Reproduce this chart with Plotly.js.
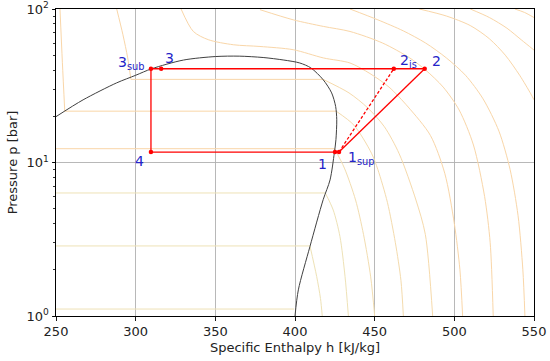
<!DOCTYPE html>
<html>
<head>
<meta charset="utf-8">
<script src="https://cdn.plot.ly/plotly-3.0.1.min.js"></script>
<style>html,body{margin:0;padding:0;background:#fff;}#chart{width:550px;height:361px;}</style>
</head>
<body>
<div id="chart"></div>
<script>
// ---------------- data ----------------
// saturation dome: specific enthalpy h [kJ/kg], pressure p [bar]
const domeH = [250, 267, 288, 300, 310, 330, 350, 365, 380, 393, 403, 410, 417.7, 423, 425.5, 426.2, 425.7, 424.7, 422, 417.7, 409.4, 402.1, 400];
const domeP = [19.9, 25.6, 33, 37, 40.8, 46.5, 49, 49.3, 48.3, 46.5, 44.5, 41.3, 34.6, 28.4, 23.2, 19, 14.1, 11.6, 7.7, 5.73, 2.84, 1.48, 1];

// isotherms: two-phase (horizontal) segments
const twoPhaseP  = [1.11, 2.86, 6.33, 12.3, 21.6, 34.8];
const twoPhaseHL = [250, 250, 250, 250, 255.5, 297];
const twoPhaseHV = [399.5, 409.4, 419, 424.8, 425.8, 417.6];

// isotherms: compressed-liquid segments
const liq5H = [252.5, 254, 255.5];
const liq5P = [100, 45, 21.6];
const liq6H = [288.1, 292, 295, 297];
const liq6P = [100, 68, 48, 34.8];

// isotherms: superheated-vapour segments
const vap2H = [409.4, 413.6, 416, 417.1];
const vap2P = [2.86, 1.81, 1.3, 1];
const vap3H = [419, 424, 428.2, 431.4, 433.5];
const vap3P = [6.33, 4.9, 3.3, 1.81, 1];
const vap4H = [424.8, 431, 438, 443, 447.5, 450];
const vap4P = [12.3, 9.2, 5.7, 3.4, 1.8, 1];
const vap5H = [425.8, 437, 448, 452, 458, 463, 466.5, 468];
const vap5P = [21.6, 17.5, 11.5, 9, 5.5, 3, 1.7, 1];
const vap6H = [417.6, 433.9, 445.6, 456.1, 465.4, 475.9, 481.8, 486.4];
const vap6P = [34.8, 28.4, 22.7, 17.1, 11.4, 5.7, 3.4, 1];

// supercritical / hot isotherms
const iso7H = [328.5, 336.2, 345.6, 361.3, 378, 398.9, 417.8, 434.5, 447, 459, 471, 485, 494, 500, 503.5, 505.2];
const iso7P = [100, 71.4, 63.1, 58.5, 57, 54.3, 48, 44.5, 38, 31, 23, 15, 8.5, 4, 2, 1];
const iso8H = [378, 398.9, 417.8, 434.5, 455, 472, 482, 493, 503, 512, 519, 522.5, 524.4];
const iso8P = [99, 85, 77, 71.4, 60, 48, 40, 31, 22, 13, 6, 3, 1];
const iso9H = [434.5, 452, 468, 482, 495, 507, 518, 528, 535, 540, 543, 544.3];
const iso9P = [100, 85, 72, 60, 48, 37, 26, 16, 9, 4.5, 2, 1];
const iso10H = [478, 495, 510, 522, 532, 541, 548, 550];
const iso10P = [100, 90, 78, 64, 50, 37, 28, 25.6];
const iso11H = [510, 522, 533, 542, 550];
const iso11P = [100, 88, 75, 63, 54];
const iso12H = [538, 544, 550];
const iso12P = [100, 95, 88];

// refrigeration cycle state points
const stateNames = ['3<sub>sub</sub>', '3', '4', '1', '1<sub>sup</sub>', '2<sub>is</sub>', '2'];
const stateH = [309.6, 316, 309.6, 425.1, 427.6, 462, 481.4];
const stateP = [40.8, 40.8, 11.7, 11.7, 11.7, 40.8, 40.8];

// axis ticks
const xTicks = [250, 300, 350, 400, 450, 500, 550];
const yTicks = [1, 10, 100];
const yTickText = ['10<sup>0</sup>', '10<sup>1</sup>', '10<sup>2</sup>'];

// ---------------- styles ----------------
const isoWarm = '#f9d6a8';
const isoCool = '#eee2b6';
const traces = [];
function isoTrace(h, p, color, shape) {
  traces.push({x: h, y: p, mode: 'lines', type: 'scatter', hoverinfo: 'skip',
    line: {color: color, width: 1, shape: shape || 'spline', smoothing: 0.8}});
}
for (let i = 0; i < twoPhaseP.length; i++) {
  isoTrace([twoPhaseHL[i], twoPhaseHV[i]], [twoPhaseP[i], twoPhaseP[i]], i < 3 ? isoCool : isoWarm, 'linear');
}
isoTrace(liq5H, liq5P, isoWarm); isoTrace(liq6H, liq6P, isoWarm);
isoTrace(vap2H, vap2P, isoCool); isoTrace(vap3H, vap3P, isoCool); isoTrace(vap4H, vap4P, '#f2ddb0');
isoTrace(vap5H, vap5P, '#f4dbad'); isoTrace(vap6H, vap6P, '#f6daab');
isoTrace(iso7H, iso7P, isoWarm); isoTrace(iso8H, iso8P, isoWarm); isoTrace(iso9H, iso9P, isoWarm);
isoTrace(iso10H, iso10P, isoWarm); isoTrace(iso11H, iso11P, isoWarm); isoTrace(iso12H, iso12P, isoWarm);

// dome
traces.push({x: domeH, y: domeP, mode: 'lines', type: 'scatter', hoverinfo: 'skip',
  line: {color: '#404040', width: 1, shape: 'spline', smoothing: 0.8}});

// cycle lines
const red = '#ff0000';
function seg(a, b, dash) {
  traces.push({x: [stateH[a], stateH[b]], y: [stateP[a], stateP[b]], mode: 'lines', type: 'scatter',
    hoverinfo: 'skip', line: {color: red, width: 1.3, dash: dash || 'solid'}});
}
seg(0, 6);              // condensation line 3sub -> 2
seg(0, 2);              // expansion 3sub -> 4
seg(2, 4);              // evaporation 4 -> 1sup
seg(4, 6);              // real compression 1sup -> 2
seg(4, 5, '3px,2px');   // isentropic compression 1sup -> 2is
traces.push({x: stateH, y: stateP, mode: 'markers', type: 'scatter', hoverinfo: 'skip',
  marker: {color: red, size: 4.5}});

// labels: pixel offsets relative to each state point
const labelStyle = [
  {xs: -5, ys: 6, xa: 'right'},
  {xs: 2, ys: 11, xa: 'left'},
  {xs: -11, ys: -9, xa: 'center'},
  {xs: -12, ys: -12, xa: 'center'},
  {xs: 7, ys: -6, xa: 'left'},
  {xs: 4, ys: 8, xa: 'left'},
  {xs: 12, ys: 8, xa: 'center'}
];
const annotations = stateNames.map((t, i) => ({
  x: stateH[i], y: Math.log10(stateP[i]), xref: 'x', yref: 'y', text: t, showarrow: false,
  xanchor: labelStyle[i].xa, yanchor: 'middle', xshift: labelStyle[i].xs, yshift: labelStyle[i].ys,
  font: {family: 'DejaVu Sans', size: 14, color: '#2424c8'}
}));

const axisCommon = {
  showline: true, linecolor: '#000', linewidth: 1, mirror: true,
  ticks: 'outside', ticklen: 3.5, tickwidth: 0.9, tickcolor: '#000',
  showgrid: true, gridcolor: '#b0b0b0', gridwidth: 0.9, zeroline: false,
  tickfont: {family: 'DejaVu Sans', size: 13, color: '#222'}
};

const layout = {
  width: 550, height: 361,
  margin: {l: 56, r: 16, t: 9, b: 45, pad: 0},
  paper_bgcolor: '#fff', plot_bgcolor: '#fff',
  showlegend: false,
  font: {family: 'DejaVu Sans', color: '#222'},
  xaxis: Object.assign({}, axisCommon, {
    range: [250, 550], tickmode: 'array', tickvals: xTicks,
    title: {text: 'Specific Enthalpy h [kJ/kg]', font: {family: 'DejaVu Sans', size: 13, color: '#222'}, standoff: 4}
  }),
  yaxis: Object.assign({}, axisCommon, {
    type: 'log', range: [0, 2], tickmode: 'array', tickvals: yTicks, ticktext: yTickText,
    minor: {ticks: 'outside', ticklen: 2, tickcolor: '#000', tickwidth: 0.8, dtick: 'D1', showgrid: false},
    title: {text: 'Pressure p [bar]', font: {family: 'DejaVu Sans', size: 13, color: '#222'}, standoff: 6}
  }),
  annotations: annotations
};

Plotly.newPlot('chart', traces, layout, {staticPlot: true, displayModeBar: false});
</script>
</body>
</html>
